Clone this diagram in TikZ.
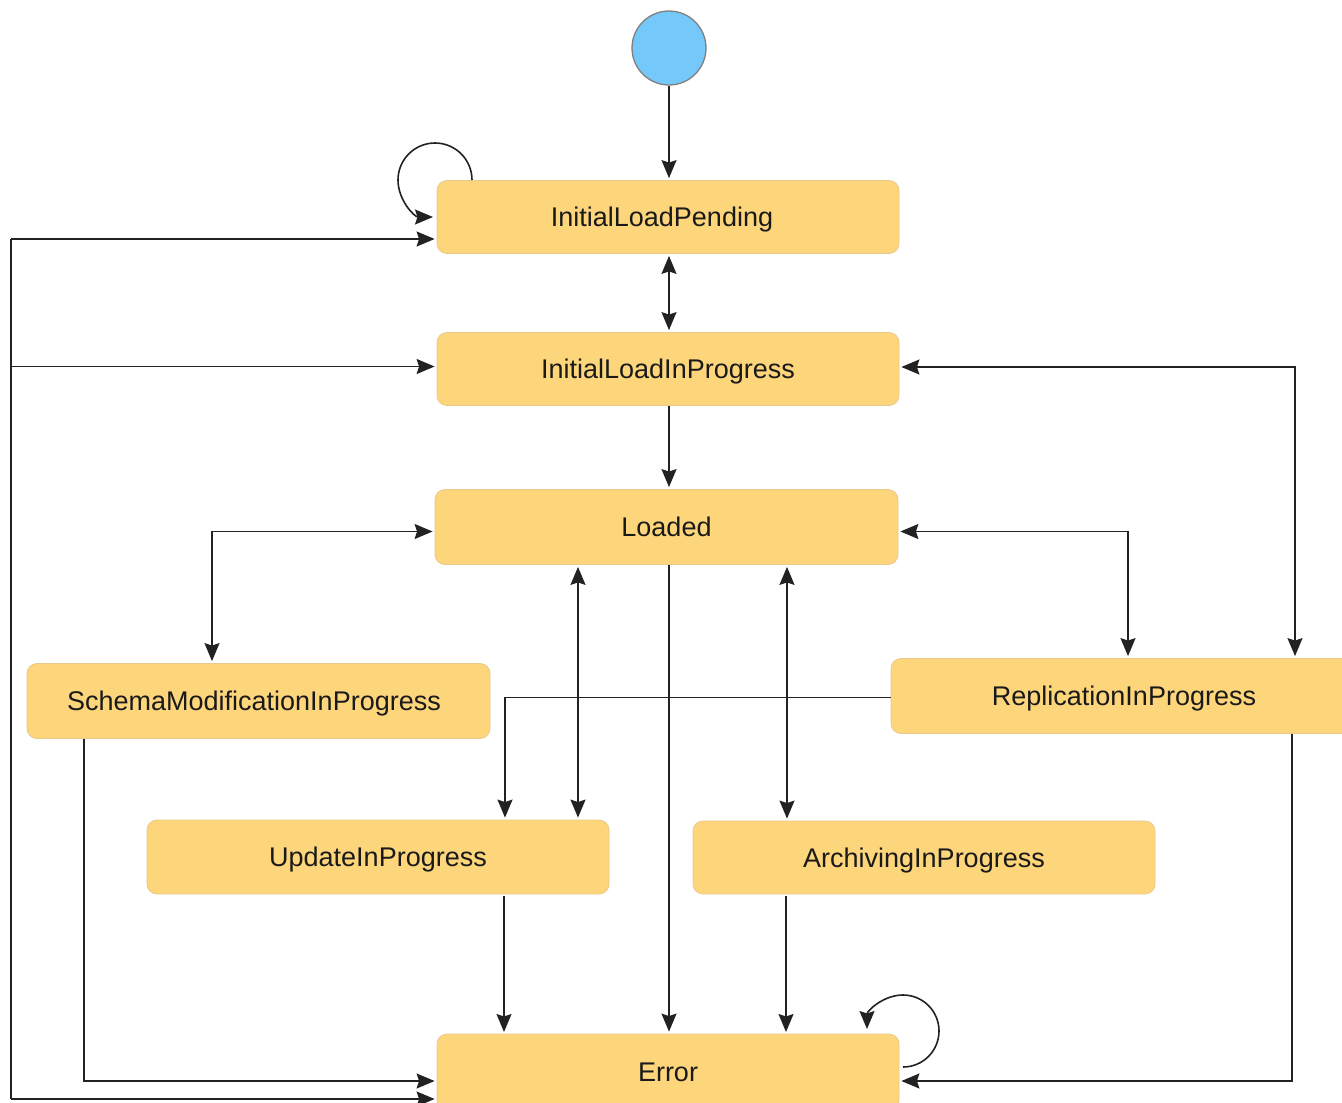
\documentclass[tikz,border=0pt]{standalone}
\usepackage{fontspec}
\setmainfont{Liberation Sans}
\usetikzlibrary{arrows.meta,calc}
\definecolor{boxfill}{HTML}{FDD57B}
\definecolor{boxline}{HTML}{E9C98C}
\definecolor{startfill}{HTML}{75C9FA}
\definecolor{linecol}{HTML}{222222}
\definecolor{txtcol}{HTML}{1A1A1A}
\tikzset{tip/.tip={Stealth[length=18pt,width=15pt,inset=2.5pt]}}
\begin{document}
\begin{tikzpicture}[x=1pt,y=-1pt,
  state/.style={draw=boxline,line width=0.8pt,fill=boxfill,rounded corners=10pt,inner sep=0pt,
    text=txtcol,font=\fontsize{27}{32}\selectfont,text height=19.5pt,text depth=0pt},
  arr/.style={draw=linecol,line width=1.6pt,-tip,shorten >=2pt},
  arrtwo/.style={draw=linecol,line width=1.6pt,tip-tip,shorten >=2pt,shorten <=2pt},
  plain/.style={draw=linecol,line width=1.6pt}]
\clip (0,0) rectangle (1342,1103);
\fill[white] (0,0) rectangle (1342,1103);

\node[circle,draw=gray,line width=1.3pt,fill=startfill,minimum size=74pt,inner sep=0pt] (start) at (669,48) {};
\node[state,minimum width=462pt,minimum height=73pt,text width=462pt,align=center] (ilp) at (668,217) {\hspace*{-12pt}InitialLoadPending};
\node[state,minimum width=462pt,minimum height=73pt] (ilip) at (668,369) {InitialLoadInProgress};
\node[state,minimum width=463pt,minimum height=75pt] (loaded) at (666.5,527) {Loaded};
\node[state,minimum width=463pt,minimum height=75pt,text width=463pt,align=center] (schema) at (258.5,701) {\hspace*{-9pt}SchemaModificationInProgress};
\node[state,minimum width=466pt,minimum height=75pt,text width=466pt,align=center] (repl) at (1124,696) {ReplicationInProgress};
\node[state,minimum width=462pt,minimum height=74pt] (update) at (378,857) {UpdateInProgress};
\node[state,minimum width=462pt,minimum height=73pt] (arch) at (924,857.5) {ArchivingInProgress};
\node[state,minimum width=462pt,minimum height=76pt] (error) at (668,1072) {Error};

\coordinate (xl) at (11,0);
\coordinate (xs) at (84,0);
\coordinate (xsm) at (212,0);
\coordinate (xu) at (505,0);
\coordinate (xlu) at (578,0);
\coordinate (xc) at (669,0);
\coordinate (xla) at (787,0);
\coordinate (xr) at (1128,0);
\coordinate (xrr) at (1295,0);
\coordinate (xre) at (1292,0);

% start
\draw[arr] (start.south) -- (xc |- ilp.north);
% self loop on InitialLoadPending
\draw[arr] (472,180) arc[start angle=0,end angle=270,radius=37pt];
% ILP <-> ILIP
\draw[arrtwo] (xc |- ilp.south) -- (xc |- ilip.north);
% ILIP -> Loaded
\draw[arr] (xc |- ilip.south) -- (xc |- loaded.north);
% left bus
\coordinate (t1) at ($(ilp.west)+(0,22)$);
\coordinate (t2) at ($(ilip.west)+(0,-2.5)$);
\coordinate (b1) at ($(error.west)+(0,27)$);
\draw[plain] (xl |- t1) -- (xl |- b1);
\draw[arr] (xl |- t1) -- (t1);
\draw[arr] (xl |- t2) -- (t2);
\draw[arr] (xl |- b1) -- (b1);
% schema -> error
\draw[arr] (xs |- schema.south) |- ($(error.west)+(0,9)$);
% loaded <-> schema
\draw[arrtwo] (xsm |- schema.north) |- ($(loaded.west)+(0,4.5)$);
% loaded <-> replication
\draw[arrtwo] (xr |- repl.north) |- ($(loaded.east)+(0,4.5)$);
% ilip <-> replication
\draw[arrtwo] (xrr |- repl.north) |- ($(ilip.east)+(0,-2)$);
% replication -> update
\draw[arr] ($(repl.west)+(0,1.5)$) -| (xu |- update.north);
% loaded <-> update, archiving
\draw[arrtwo] (xlu |- loaded.south) -- (xlu |- update.north);
\draw[arrtwo] (xla |- loaded.south) -- (xla |- arch.north);
% to error
\draw[arr] (xc |- loaded.south) -- (xc |- error.north);
\draw[arr,shorten <=2pt] (504,894) -- (504,1034);
\draw[arr,shorten <=2pt] (786,894) -- (786,1034);
\draw[arr] (xre |- repl.south) |- ($(error.east)+(0,9)$);
% self loop on Error
\draw[arr] (903,1067) arc[start angle=-90,end angle=180,radius=36pt];
\end{tikzpicture}
\end{document}
